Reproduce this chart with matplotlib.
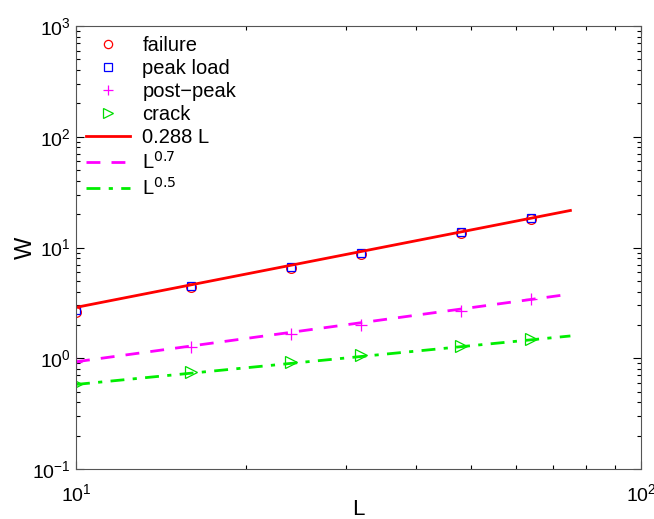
import matplotlib.pyplot as plt
from matplotlib.ticker import LogLocator, NullFormatter

# system sizes
L = [10, 16, 24, 32, 48, 64]

# measured widths
failure = [2.6, 4.4, 6.5, 8.8, 13.5, 18.0]
peak_load = [2.7, 4.5, 6.7, 9.0, 13.8, 18.3]
post_peak = [0.93, 1.27, 1.65, 2.0, 2.65, 3.4]
crack = [0.58, 0.75, 0.93, 1.08, 1.3, 1.48]

# fitted power laws (end points)
fit_L = [10, 75]
fit_linear = [2.88, 21.6]
fit_07 = [0.93, 3.8]
fit_05 = [0.58, 1.59]

plt.rcParams["font.family"] = ["Liberation Sans", "DejaVu Sans"]

fig = plt.figure(figsize=(6.54, 5.19), dpi=100)
ax = fig.add_axes([0.1162, 0.0963, 0.8639, 0.8536])

ax.plot(L, failure, "o", mfc="none", mec="red", ms=7, mew=0.9, label="failure")
ax.plot(L, peak_load, "s", mfc="none", mec="blue", ms=6, mew=0.9, label="peak load")
ax.plot(L, post_peak, "+", color="magenta", ms=8, mew=0.9, label="post\u2212peak")
ax.plot(L, crack, ">", mfc="none", mec="#00dd00", ms=8, mew=0.9, label="crack")

ax.plot(fit_L, fit_linear, "-", color="red", lw=2, label="0.288 L")
ax.plot(fit_L, fit_07, "--", color="magenta", lw=2, dashes=(5, 4), label="L$^{0.7}$")
ax.plot(fit_L, fit_05, "-.", color="#00ee00", lw=2, dashes=(5, 3, 1.5, 3), label="L$^{0.5}$")

ax.set_xscale("log")
ax.set_yscale("log")
ax.set_xlim(10, 100)
ax.set_ylim(0.1, 1000)

ax.yaxis.set_major_locator(LogLocator(base=10, numticks=10))
ax.yaxis.set_minor_locator(LogLocator(base=10, subs=range(2, 10), numticks=20))
ax.yaxis.set_minor_formatter(NullFormatter())
ax.xaxis.set_minor_formatter(NullFormatter())

ax.tick_params(which="both", direction="in", top=True, right=True, labelsize=14)
ax.tick_params(which="major", length=6, width=0.8)
ax.tick_params(which="minor", length=3, width=0.8)
ax.tick_params(axis="x", pad=10)
for s in ax.spines.values():
    s.set_color("#555555")

ax.set_xlabel("L", fontsize=16, labelpad=-4)
ax.set_ylabel("W", fontsize=17, labelpad=-3)

ax.legend(
    loc="upper left",
    bbox_to_anchor=(0.0, 1.0),
    frameon=False,
    fontsize=14.5,
    handlelength=2.2,
    handletextpad=0.6,
    labelspacing=0.2,
    borderaxespad=0.1,
    markerscale=0.85,
)

fig.savefig("out.png", dpi=100)
